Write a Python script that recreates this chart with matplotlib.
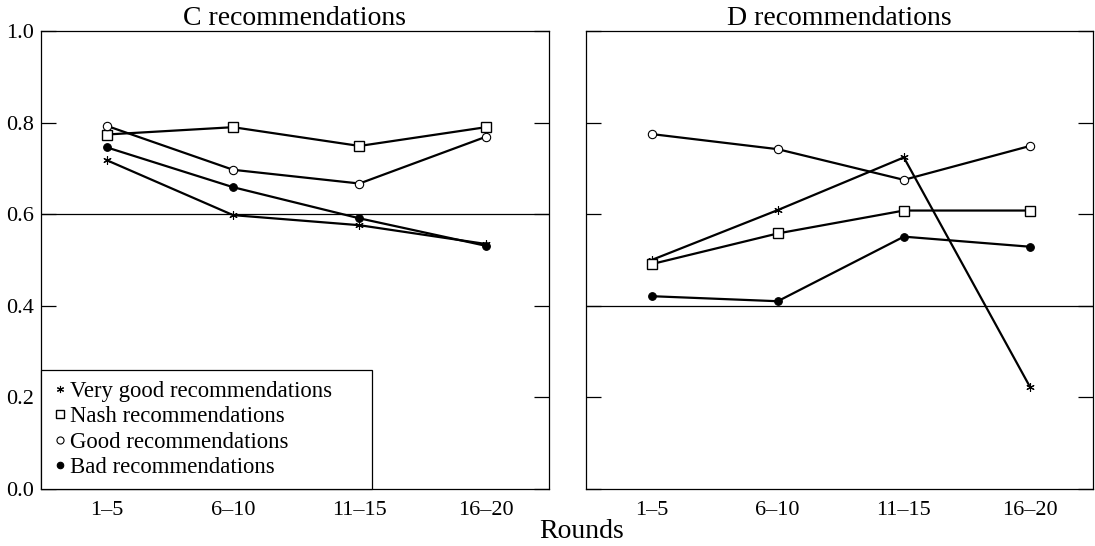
import matplotlib.pyplot as plt
import numpy as np
from matplotlib.lines import Line2D

plt.rcParams['font.family'] = ['Liberation Serif', 'DejaVu Serif']

# Данные
rounds = ['1–5', '6–10', '11–15', '16–20']
series_names = ['Very good recommendations', 'Nash recommendations',
                'Good recommendations', 'Bad recommendations']

# C recommendations
c_very_good = [0.718, 0.598, 0.576, 0.535]
c_nash = [0.774, 0.790, 0.749, 0.790]
c_good = [0.793, 0.697, 0.667, 0.769]
c_bad = [0.746, 0.659, 0.591, 0.531]
c_ref = 0.6

# D recommendations
d_very_good = [0.500, 0.609, 0.724, 0.223]
d_nash = [0.491, 0.558, 0.608, 0.608]
d_good = [0.775, 0.742, 0.675, 0.749]
d_bad = [0.421, 0.410, 0.551, 0.529]
d_ref = 0.4

markers = [dict(marker=(6, 2, 0), ms=6, mfc='black', mew=0.8),
           dict(marker='s', ms=7, mfc='white', mew=1.0),
           dict(marker='o', ms=6, mfc='white', mew=0.8),
           dict(marker='o', ms=5.5, mfc='black', mew=0.8)]

fig = plt.figure(figsize=(10.95, 5.46), dpi=100)
ax1 = fig.add_axes([0.0374, 0.1044, 0.464, 0.8388])
ax2 = fig.add_axes([0.5352, 0.1044, 0.463, 0.8388])

x = np.arange(len(rounds))

def draw(ax, data, ref, title, labels=True):
    ax.axhline(ref, color='black', lw=0.9, zorder=1)
    for vals, m in zip(data, markers):
        ax.plot(x, vals, color='black', lw=1.6, mec='black', zorder=3, **m)
    ax.set_xlim(-0.52, 3.5)
    ax.set_ylim(0, 1.0)
    ax.set_xticks(x)
    ax.set_xticklabels(rounds, fontsize=16)
    ax.set_yticks([0.0, 0.2, 0.4, 0.6, 0.8, 1.0])
    ax.tick_params(axis='x', length=0, pad=8.5)
    ax.tick_params(axis='y', direction='in', length=11, width=0.9, pad=5,
                   left=True, right=True, labelsize=16, labelleft=labels)
    if labels:
        ax.set_yticklabels(['0.0', '0.2', '0.4', '0.6', '0.8', '1.0'])
    for s in ax.spines.values():
        s.set_linewidth(0.9)
    ax.set_title(title, fontsize=20, pad=4)

draw(ax1, [c_very_good, c_nash, c_good, c_bad], c_ref, 'C recommendations')
draw(ax2, [d_very_good, d_nash, d_good, d_bad], d_ref, 'D recommendations', labels=False)

handles = [Line2D([], [], ls='none', color='black', mec='black',
                  **{**m, 'ms': m['ms'] * 0.85}) for m in markers]
leg = ax1.legend(handles, series_names, loc='lower left', fontsize=16.4,
                 bbox_to_anchor=(0, 0, 0.652, 1), mode='expand',
                 frameon=True, fancybox=False, framealpha=1, edgecolor='black',
                 handlelength=0.67, handletextpad=0.12, borderpad=0.5,
                 labelspacing=0.18, borderaxespad=0)
leg.get_frame().set_linewidth(0.9)

fig.text(0.531, 0.0147, 'Rounds', ha='center', va='baseline', fontsize=20)

plt.savefig('out.png', dpi=100)
